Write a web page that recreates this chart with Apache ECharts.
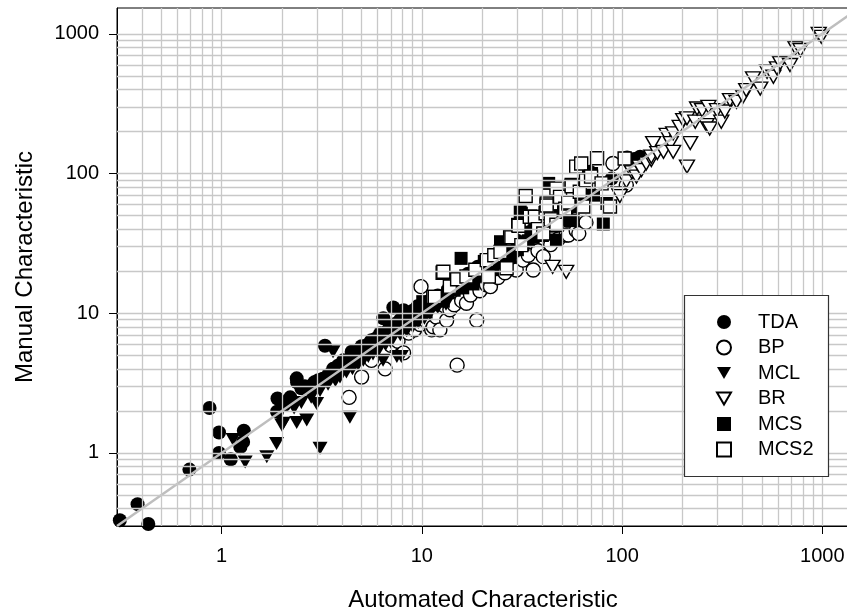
<!DOCTYPE html>
<html>
<head>
<meta charset="utf-8">
<script src="https://cdn.jsdelivr.net/npm/echarts@6/dist/echarts.min.js"></script>
<style>
html,body{margin:0;padding:0;background:#fff;}
#chart{width:847px;height:609px;}
</style>
</head>
<body>
<div id="chart"></div>
<script>
const seriesNames = ['TDA','BP','MCL','BR','MCS','MCS2'];
const xTicks = [1,10,100,1000];
const yTicks = [1,10,100,1000];
const gridVals = [0.4,0.5,0.6,0.7,0.8,0.9,1,2,3,4,5,6,7,8,9,10,20,30,40,50,60,70,80,90,100,200,300,400,500,600,700,800,900,1000];
const refLine = [[0.3,0.3],[1360,1360]];

const tda = [
[0.31,0.33],[0.38,0.43],[0.43,0.31],[0.69,0.76],[0.87,2.1],[0.97,1.4],[0.97,1.0],[1.11,0.9],[1.29,1.44],[1.28,1.2],[1.24,1.1],
[1.9,2.45],[1.89,1.97],[2.05,2.2],[2.2,2.5],[2.38,3.2],[2.37,3.42],[2.5,2.9],[2.6,3.0],[2.76,2.9],[2.9,3.2],[3.04,3.32],[3.2,3.4],[3.28,5.85],[3.4,3.6],[3.6,4.0],[3.8,4.2],[4.05,4.6],[4.2,4.5],[4.46,5.3],[4.6,5.0],[4.8,5.4],[5.0,5.8],[5.2,5.5],[5.4,6.0],[5.6,6.4],[5.9,6.6],[6.2,7.2],[6.42,9.2],[6.6,7.3],[6.9,8.0],[7.2,11.0],[7.4,8.4],[7.8,9.0],[8.1,10.5],[8.5,9.6],[9.0,10.4],[9.5,11.2],[10.2,11.8],[11,12.4],[12,13.4],[13.5,14.8],[15,16.6],[17,19.2],[19,21.5],[22,24.5],[25,28],[30,33],[36,40],[69,103],[88.7,92],[106,130],[115,127],[123,132]
];
const bp = [
[4.33,2.5],[5.0,3.5],[5.6,4.6],[6.55,4.0],[7.0,5.9],[7.6,6.3],[8.1,5.2],[8.6,7.2],[9.2,7.6],[9.9,15.5],[9.8,8.3],[10.5,8.8],[11.2,7.6],[11.4,8.0],[11.8,9.4],[12.3,7.6],[13.3,8.9],[13.8,10.6],[14.5,11.5],[15,4.25],[15.8,12.3],[16.7,11.8],[17.5,13.5],[18.8,8.9],[19.5,14.5],[21,16],[22,15.5],[24,18],[26,19.5],[27.5,21.5],[29.6,20.4],[32,24],[34,26],[36,20.4],[38,28],[40.4,25.4],[44,31],[48,34],[52.6,36.3],[54,36.3],[59,39],[60.8,37.2],[66,44.7],[90,118],[105,82.6]
];
const mcl = [
[1.14,1.25],[1.31,0.86],[1.68,0.94],[1.88,1.17],[2.0,1.58],[2.03,1.63],[2.37,1.65],[2.66,1.72],[3.1,1.08],[2.98,2.26],[2.3,2.1],[2.5,2.3],[2.8,2.5],[3.1,2.8],[3.4,3.1],[3.6,5.3],[3.7,3.3],[3.9,3.5],[4.2,3.8],[4.37,1.8],[4.5,4.0],[4.8,4.3],[5.1,4.6],[5.4,4.9],[5.7,5.1],[6.1,5.5],[6.4,4.6],[6.6,6.0],[7.0,6.2],[7.5,4.9],[7.9,4.9],[7.8,7.0],[8.4,7.5],[9.0,8.0],[9.6,8.6],[10.3,9.2],[11,10],[12,11],[13.2,11.6]
];
const br = [
[45,21.5],[52.6,19.8],[96,72],[97.5,69],[105,88],[112,102],[118,95],[122,112],[125,106],[132,118],[140,125],[140,132],[143,165],[150,140],[161,143],[167,189],[175,165],[180,194],[180,143],[194,216],[202,241],[211,248],[211,112],[219,165],[232,235],[237,292],[251,284],[264,222],[270,300],[274,210],[298,284],[313,235],[326,278],[346,335],[373,326],[402,355],[417,395],[451,480],[490,405],[530,535],[570,493],[594,566],[616,617],[690,598],[735,790],[778,766],[960,1000],[990,950]
];
const mcs = [
[7.5,7.8],[8.2,8.8],[9,9.4],[10.1,12.1],[10.5,10.2],[11.2,11.5],[12,12.6],[12.8,12.2],[13.5,14],[14.5,14.6],[15.7,24.7],[16,15.2],[17,16.8],[18,16.2],[19,18.4],[20,19.5],[20.5,23.5],[21.5,21.2],[22.5,20.5],[24,23],[24.7,32.5],[25.5,26],[26.5,24.5],[27.6,25.4],[28.5,28],[30,28.5],[31,53],[31.4,52],[32,31],[34,33],[35,38],[36,35],[38,40],[40,36],[43,85],[44,42],[46,44],[47,33.4],[49,50],[51,55],[53,47],[55,46],[57,46.5],[60,58],[64,66],[70.4,100],[72,70],[80.6,43.5],[84,61]
];
const mcs2 = [
[11.4,13.1],[11.6,13.1],[12.7,19.5],[12.8,19.8],[13.8,15.5],[15,17.5],[16.7,18.3],[18.5,20.5],[21.1,24],[21.6,18.3],[23,26],[24.7,27.5],[26.5,21],[27.6,35.2],[28,35],[30.3,42.9],[30.4,42.3],[31.4,30.7],[33,69],[34.6,49],[36.7,49],[38,40],[40.4,37.2],[41.5,52],[42,61],[42,59],[44,47],[47,43],[47,78],[49,68],[52,56],[54,61],[54,62],[56,82.8],[56,81],[59,112],[61.5,74],[62.5,118],[64,58],[66,89.6],[70,95],[75,128.5],[79,85],[87,58],[103,128]
];

const FONT = '"Liberation Sans", Arial, sans-serif';
const downTri = 'path://M0,0L14,0L7,12Z';
const filled = {color:'#000', opacity:1};
const open = {color:'#fff', borderColor:'#000', borderWidth:1.4, opacity:1};

function scatter(name, data, symbol, size, style){
  return {name:name, type:'scatter', data:data, symbol:symbol, symbolSize:size,
    itemStyle:style, z:2, emphasis:{disabled:true}, silent:true, animation:false};
}

const gridMarks = gridVals.map(v => ({xAxis:v})).concat(gridVals.map(v => ({yAxis:v})));

const chart = echarts.init(document.getElementById('chart'), null, {renderer:'canvas'});
chart.setOption({
  animation:false,
  backgroundColor:'#fff',
  textStyle:{fontFamily:FONT},
  grid:{left:117, top:8, right:-2, bottom:83, show:true, borderColor:'#000', borderWidth:1,
    backgroundColor:'transparent', containLabel:false, outerBoundsMode:'none'},
  xAxis:{
    type:'log', logBase:10, min:0.3, max:1360,
    axisLine:{show:true, lineStyle:{color:'#000', width:1}},
    axisTick:{show:true, length:8, customValues:xTicks, lineStyle:{color:'#000', width:1}},
    axisLabel:{customValues:xTicks, fontSize:20, color:'#000', margin:20, fontFamily:FONT,
      formatter:v => String(Math.round(v))},
    splitLine:{show:false},
    name:'Automated Characteristic', nameLocation:'middle', nameGap:62,
    nameTextStyle:{fontSize:24, color:'#000', fontFamily:FONT}
  },
  yAxis:{
    type:'log', logBase:10, min:0.3, max:1530,
    axisLine:{show:true, lineStyle:{color:'#000', width:1}},
    axisTick:{show:true, length:8, customValues:yTicks, lineStyle:{color:'#000', width:1}},
    axisLabel:{customValues:yTicks, fontSize:20, color:'#000', margin:18, fontFamily:FONT,
      formatter:v => String(Math.round(v))},
    splitLine:{show:false},
    name:'Manual Characteristic', nameLocation:'middle', nameGap:80,
    nameTextStyle:{fontSize:24, color:'#000', fontFamily:FONT}
  },
  legend:{
    data:seriesNames, orient:'vertical', left:716, top:312, itemWidth:14, itemHeight:14, itemGap:5.5,
    padding:0, selectedMode:false, z:20,
    textStyle:{fontSize:20, color:'#000', fontFamily:FONT, padding:[0,0,0,22]}
  },
  graphic:[{type:'rect', z:10, shape:{x:684.5, y:295.5, width:144, height:181},
    style:{fill:'#fff', stroke:'#333', lineWidth:1.2}}],
  series:[
    {name:'grid', type:'line', data:[], z:1, silent:true,
      markLine:{silent:true, symbol:['none','none'], animation:false, label:{show:false},
        lineStyle:{type:'solid', color:'#c8c8c8', width:1.3}, emphasis:{disabled:true}, data:gridMarks}},
    scatter('TDA', tda, 'circle', 14, filled),
    scatter('BP', bp, 'circle', 14, open),
    scatter('MCL', mcl, downTri, [15,13], filled),
    scatter('BR', br, downTri, [15,13], open),
    scatter('MCS', mcs, 'rect', 13, filled),
    scatter('MCS2', mcs2, 'rect', 13, open),
    {name:'ref', type:'line', data:refLine, symbol:'none', z:3, silent:true, animation:false,
      lineStyle:{color:'#bebebe', width:2.5}, emphasis:{disabled:true}}
  ]
});
</script>
</body>
</html>
